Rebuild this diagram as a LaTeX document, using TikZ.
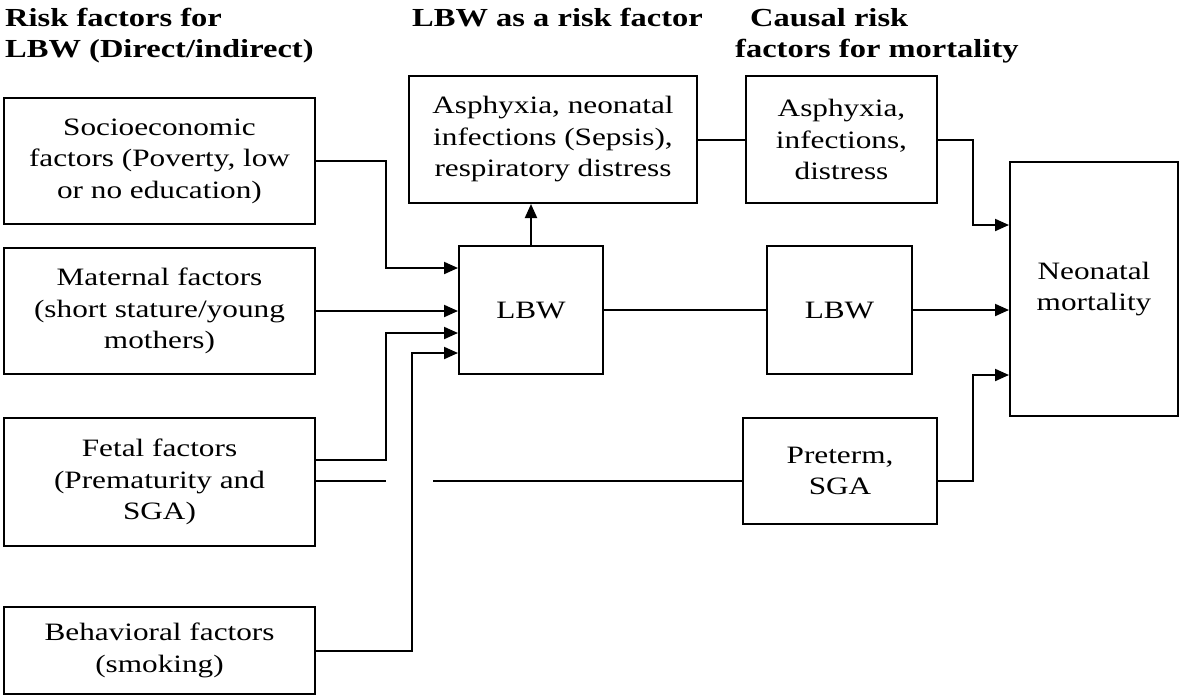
\documentclass[tikz,border=0pt]{standalone}
\usepackage{fontspec}
\setmainfont{Liberation Serif}[FakeStretch=1.25]
\usetikzlibrary{arrows.meta}
\begin{document}
\begin{tikzpicture}[x=1pt,y=-1pt,
  box/.style={draw, line width=2pt, inner sep=0pt, align=center, font=\fontsize{25}{31.5}\selectfont},
  head/.style={anchor=base west, inner sep=0pt, font=\bfseries\fontsize{26}{31}\selectfont},
  conn/.style={line width=2pt},
  arr/.style={conn, -{Triangle[length=14pt,width=12pt]}}]
\useasboundingbox (0,0) rectangle (1181,697);
% headings
\node[head] (h1) at (5,26) {Risk factors for};
\node[head] (h1b) at (5,57) {LBW (Direct/indirect)};
\node[head] (h2) at (412,26) {LBW as a risk factor};
\node[head] (h3) at (750,26) {Causal risk};
\node[head] (h3b) at (735,57) {factors for mortality};
% boxes
\node[box, minimum width=311, minimum height=126] (soc) at (159.5,161) {Socioeconomic\\factors (Poverty, low\\or no education)};
\node[box, minimum width=311, minimum height=126] (mat) at (159.5,311) {Maternal factors\\(short stature/young\\mothers)};
\node[box, minimum width=311, minimum height=128] (fet) at (159.5,482) {Fetal factors\\(Prematurity and\\SGA)};
\node[box, minimum width=311, minimum height=87] (beh) at (159.5,650.5) {Behavioral factors\\(smoking)};
\node[box, minimum width=288, minimum height=127] (asph) at (553,139.5) {Asphyxia, neonatal\\infections (Sepsis),\\respiratory distress};
\node[box, minimum width=191, minimum height=127] (cau) at (841.5,139.5) {Asphyxia,\\infections,\\distress};
\node[box, minimum width=144, minimum height=128] (lbw1) at (531,310) {LBW};
\node[box, minimum width=145, minimum height=128] (lbw2) at (839.5,310) {LBW};
\node[box, minimum width=168, minimum height=254] (neo) at (1094,289) {Neonatal\\mortality};
\node[box, minimum width=194, minimum height=106] (pre) at (840,471) {Preterm,\\SGA};
% junction coordinates
\coordinate (j1) at (386,268);
\coordinate (fA) at (386,460);
\coordinate (fB) at (386,333);
\coordinate (gA) at (386,481);
\coordinate (gB) at (433,481);
\coordinate (bB) at (412,353);
\coordinate (cA) at (973,225);
\coordinate (pA) at (973,375);
% connectors
\draw[arr] (soc.east) -| (j1) -- (j1 -| lbw1.west);
\draw[arr] (mat.east) -- (mat.east -| lbw1.west);
\draw[arr] (fet.east |- fA) -- (fA) -- (fB) -- (fB -| lbw1.west);
\draw[conn] (fet.east |- gA) -- (gA);
\draw[conn] (gB) -- (gB -| pre.west);
\draw[arr] (beh.east) -| (bB) -- (bB -| lbw1.west);
\draw[arr] (lbw1.north) -- (lbw1.north |- asph.south);
\draw[conn] (asph.east) -- (cau.west);
\draw[arr] (cau.east) -| (cA) -- (cA -| neo.west);
\draw[conn] (lbw1.east) -- (lbw2.west);
\draw[arr] (lbw2.east) -- (lbw2.east -| neo.west);
\draw[arr] (pre.east |- gA) -| (pA) -- (pA -| neo.west);
\end{tikzpicture}
\end{document}
